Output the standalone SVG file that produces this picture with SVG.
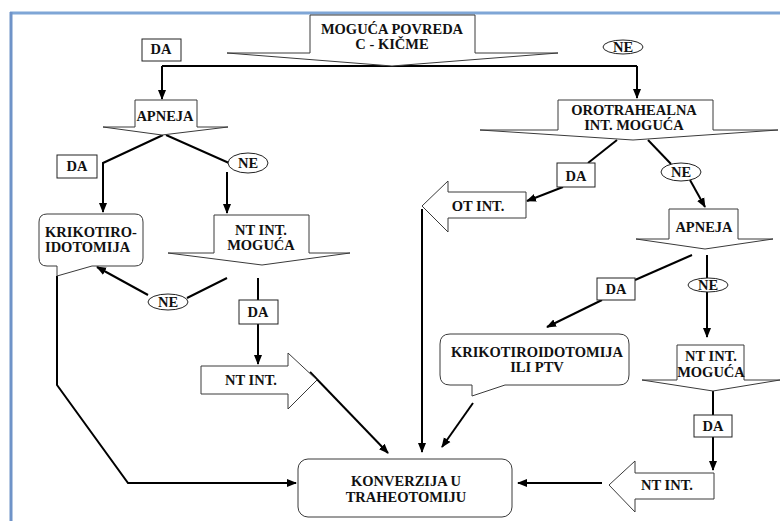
<svg xmlns="http://www.w3.org/2000/svg" width="780" height="521" viewBox="0 0 780 521">
<defs>
<style>
.sh{fill:#fff;stroke:#3a3a3a;stroke-width:1}
.lb{fill:#fff;stroke:#222;stroke-width:1}
.t{font-family:"Liberation Serif","Times New Roman",serif;font-weight:bold;font-size:14.5px;fill:#111;text-anchor:middle}
.c{fill:none;stroke:#000;stroke-width:2}
.a{marker-end:url(#ah)}
</style>
<marker id="ah" markerUnits="userSpaceOnUse" markerWidth="10" markerHeight="10" viewBox="0 0 10 10" refX="9" refY="5" orient="auto">
<path d="M0,1 L10,5 L0,9 Z" fill="#000"/>
</marker>
</defs>
<rect width="780" height="521" fill="#fff"/>
<g id="frame">
<line x1="10" y1="13" x2="780" y2="13" stroke="#7fa6d6" stroke-width="3"/>
<line x1="11" y1="12" x2="11" y2="521" stroke="#6f93c8" stroke-width="3"/>
</g>
<g id="connectors">
<polyline class="c" points="162,66 637,66"/>
<line class="c a" x1="162" y1="66" x2="162" y2="99"/>
<line class="c a" x1="637" y1="66" x2="637" y2="98"/>
<polyline class="c a" points="163,135 103,163 103,212"/>
<line class="c" x1="166" y1="135" x2="229" y2="163"/>
<line class="c a" x1="227" y1="172" x2="227" y2="213"/>
<line class="c" x1="227" y1="278" x2="187" y2="298"/>
<line class="c a" x1="148" y1="295" x2="97" y2="267"/>
<line class="c" x1="258" y1="278" x2="258" y2="300"/>
<line class="c a" x1="258" y1="324" x2="258" y2="364"/>
<polyline class="c a" points="57,276 57,385 128,483 296,483"/>
<line class="c a" x1="310" y1="372" x2="388" y2="453"/>
<line class="c" x1="617" y1="140" x2="588" y2="163"/>
<line class="c a" x1="563" y1="187" x2="527" y2="201"/>
<line class="c" x1="648" y1="140" x2="671" y2="164"/>
<line class="c a" x1="690" y1="180" x2="705" y2="207"/>
<line class="c a" x1="422" y1="209" x2="422" y2="452"/>
<line class="c" x1="692" y1="255" x2="635" y2="280"/>
<line class="c a" x1="602" y1="300" x2="547" y2="327"/>
<line class="c" x1="707" y1="255" x2="707" y2="278"/>
<line class="c a" x1="707" y1="292" x2="707" y2="337"/>
<line class="c" x1="713" y1="391" x2="713" y2="415"/>
<line class="c a" x1="713" y1="437" x2="713" y2="470"/>
<line class="c a" x1="473" y1="403" x2="442" y2="447"/>
<line class="c a" x1="602" y1="483" x2="518" y2="483"/>
</g>
<g id="n-povreda">
<polygon class="sh" points="310,15 475,15 475,53 558,53 392,66 227,53 310,53"/>
<text class="t" x="392" y="34">MOGUĆA POVREDA</text>
<text class="t" x="392" y="49">C - KIČME</text>
</g>
<g id="n-apneja1">
<polygon class="sh" points="135,100 197,100 197,127 228,127 162,135 103,127 135,127"/>
<text class="t" x="165" y="121">APNEJA</text>
</g>
<g id="n-krikotiro1">
<path class="sh" d="M47,214 H135 Q143,214 143,222 V258 Q143,266 135,266 H92 L57,276 V266 H47 Q39,266 39,258 V222 Q39,214 47,214 Z"/>
<text class="t" x="45" y="237" style="text-anchor:start">KRIKOTIRO-</text>
<text class="t" x="45" y="252" style="text-anchor:start">IDOTOMIJA</text>
</g>
<g id="n-ntmoguca1">
<polygon class="sh" points="214,215 309,215 309,253 350,253 262,265 168,253 214,253"/>
<text class="t" x="261" y="235">NT INT.</text>
<text class="t" x="261" y="250">MOGUĆA</text>
</g>
<g id="n-ntint1">
<polygon class="sh" points="201,366 288,366 288,353 317,380 288,409 288,394 201,394"/>
<text class="t" x="251" y="385">NT INT.</text>
</g>
<g id="n-konverzija">
<rect class="sh" x="298" y="459" width="214" height="58" rx="10"/>
<text class="t" x="406" y="486">KONVERZIJA  U</text>
<text class="t" x="406" y="502">TRAHEOTOMIJU</text>
</g>
<g id="n-orotrahealna">
<polygon class="sh" points="558,100 713,100 713,130 778,130 633,140 480,130 558,130"/>
<text class="t" x="634" y="115">OROTRAHEALNA</text>
<text class="t" x="634" y="130">INT. MOGUĆA</text>
</g>
<g id="n-otint">
<polygon class="sh" points="526,192 526,218 448,218 448,232 422,206 448,181 448,192"/>
<text class="t" x="478" y="211">OT INT.</text>
</g>
<g id="n-apneja2">
<polygon class="sh" points="669,209 738,209 738,239 773,239 705,249 636,239 669,239"/>
<text class="t" x="704" y="232">APNEJA</text>
</g>
<g id="n-krikotiro2">
<path class="sh" d="M450,334 H619 Q629,334 629,344 V375 Q629,385 619,385 H505 L472,396 V385 H450 Q440,385 440,375 V344 Q440,334 450,334 Z"/>
<text class="t" x="537" y="357">KRIKOTIROIDOTOMIJA</text>
<text class="t" x="537" y="372">ILI PTV</text>
</g>
<g id="n-ntmoguca2">
<polygon class="sh" points="677,345 744,345 744,380 780,380 713,391 642,380 677,380"/>
<text class="t" x="711" y="361">NT INT.</text>
<text class="t" x="711" y="377">MOGUĆA</text>
</g>
<g id="n-ntint2">
<polygon class="sh" points="714,473 714,499 635,499 635,512 609,485 635,461 635,473"/>
<text class="t" x="667" y="490">NT INT.</text>
</g>
<g id="labels">
<g id="l-da1"><rect class="lb" x="142" y="39" width="39" height="22"/><text class="t" x="161" y="54">DA</text></g>
<g id="l-ne1"><ellipse class="lb" cx="623" cy="47" rx="20" ry="7"/><text class="t" x="623" y="52">NE</text></g>
<g id="l-da2"><rect class="lb" x="57" y="155" width="40" height="23"/><text class="t" x="77" y="171">DA</text></g>
<g id="l-ne2"><ellipse class="lb" cx="248" cy="163" rx="20" ry="10"/><text class="t" x="248" y="168">NE</text></g>
<g id="l-ne3"><ellipse class="lb" cx="168" cy="302" rx="20" ry="8"/><text class="t" x="168" y="307">NE</text></g>
<g id="l-da3"><rect class="lb" x="239" y="300" width="39" height="24"/><text class="t" x="258" y="317">DA</text></g>
<g id="l-da4"><rect class="lb" x="557" y="163" width="38" height="24"/><text class="t" x="576" y="181">DA</text></g>
<g id="l-ne4"><ellipse class="lb" cx="681" cy="172" rx="20" ry="9"/><text class="t" x="681" y="177">NE</text></g>
<g id="l-da5"><rect class="lb" x="597" y="278" width="38" height="22"/><text class="t" x="616" y="294">DA</text></g>
<g id="l-ne5"><ellipse class="lb" cx="708" cy="285" rx="20" ry="7"/><text class="t" x="708" y="290">NE</text></g>
<g id="l-da6"><rect class="lb" x="694" y="415" width="38" height="22"/><text class="t" x="713" y="431">DA</text></g>
</g>
</svg>
